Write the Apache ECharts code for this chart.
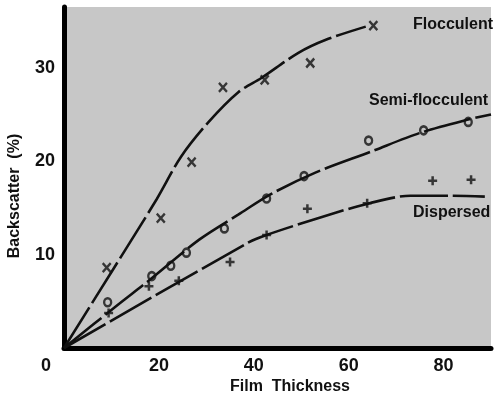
<!DOCTYPE html>
<html><head><meta charset="utf-8">
<script src="https://cdn.jsdelivr.net/npm/echarts@6/dist/echarts.min.js"></script>
<style>html,body{margin:0;padding:0;background:#fff}#c{width:494px;height:398px}</style>
</head><body><div id="c"></div>
<script>
// Measured marker points [thickness, backscatter]
const flocculentPts = [[9.0,8.6],[20.4,13.9],[26.9,19.9],[33.5,27.9],[42.3,28.7],[51.9,30.5],[65.2,34.5]];
const semiPts = [[9.2,4.9],[18.5,7.7],[22.5,8.8],[25.8,10.2],[33.8,12.8],[42.7,16.0],[50.6,18.4],[64.2,22.2],[75.8,23.3],[85.2,24.2]];
const dispersedPts = [[9.4,3.75],[17.9,6.6],[24.2,7.2],[35.0,9.2],[42.7,12.1],[51.3,14.9],[63.9,15.5],[77.7,17.9],[85.8,18.0]];
// Fitted curves as drawn
const flocculentCurve = [[0,0],[10.7,8.7],[19.5,15.9],[24.7,20.5],[30.5,24.2],[36.8,27.4],[41.6,28.9],[49.4,31.6],[55.2,33.0],[63.6,34.4]];
const semiCurve = [[0,0],[11.3,4.6],[17.6,7.1],[28.5,11.6],[36.8,14.3],[43.7,16.5],[53.1,18.8],[64.6,21.0],[74.9,23.0],[85.6,24.5],[90,25.0]];
const dispersedCurve = [[0,0],[38.9,11.3],[42.7,12.1],[54.2,14.0],[64.4,15.5],[73,16.3],[81.4,16.3],[88.7,16.2]];
const xTicks = [0,20,40,60,80];
const yTicks = [10,20,30];
const seriesNames = ['Flocculent','Semi-flocculent','Dispersed'];

const ink = '#111';
const font = '"Liberation Sans", Arial, sans-serif';
const chart = echarts.init(document.getElementById('c'), null, {renderer:'canvas'});
const lineStyle = {color: ink, width: 2.6, type: [48, 5]};
const markerStyle = {color: 'transparent', borderColor: ink, borderWidth: 2.5};
chart.setOption({
  animation: false,
  backgroundColor: '#fff',
  grid: {left: 64, right: 0, top: 7, bottom: 50, show: true, backgroundColor: '#c7c7c7', borderWidth: 0},
  xAxis: {
    type: 'value', min: 0, max: 90, interval: 20,
    axisLine: {show: true, lineStyle: {color: '#000', width: 5}},
    axisTick: {show: false}, splitLine: {show: false},
    axisLabel: {
      margin: 9, color: '#111', fontFamily: font, fontSize: 18, fontWeight: 'bold',
      formatter: v => xTicks.includes(v) ? (v === 0 ? '{z|0}' : String(v)) : '',
      rich: {z: {fontFamily: font, fontSize: 18, fontWeight: 'bold', color: '#111', padding: [0, 36, 0, 0]}}
    }
  },
  yAxis: {
    type: 'value', min: 0, max: 36.5, interval: 10,
    axisLine: {show: true, lineStyle: {color: '#000', width: 5}},
    axisTick: {show: false}, splitLine: {show: false},
    axisLabel: {
      margin: 9, color: '#111', fontFamily: font, fontSize: 18, fontWeight: 'bold',
      formatter: v => yTicks.includes(v) ? String(v) : ''
    }
  },
  series: [
    {type: 'line', data: flocculentCurve, smooth: 0.3, symbol: 'none', lineStyle: lineStyle, z: 2},
    {type: 'line', data: semiCurve, smooth: 0.3, symbol: 'none', lineStyle: lineStyle, z: 2},
    {type: 'line', data: dispersedCurve, smooth: 0.3, symbol: 'none', lineStyle: lineStyle, z: 2},
    {type: 'scatter', name: seriesNames[0], data: flocculentPts, symbol: 'path://M0,0L10,11M10,0L0,11', symbolSize: [8, 9], itemStyle: markerStyle, z: 3},
    {type: 'scatter', name: seriesNames[1], data: semiPts, symbol: 'circle', symbolSize: [7, 8], itemStyle: markerStyle, z: 3},
    {type: 'scatter', name: seriesNames[2], data: dispersedPts, symbol: 'path://M5,0L5,10M0,5L10,5', symbolSize: [9, 9], itemStyle: markerStyle, z: 3}
  ],
  graphic: [
    {type: 'text', left: 413, top: 17, style: {text: seriesNames[0], font: 'bold 16px ' + font, fill: ink}},
    {type: 'text', left: 369, top: 93, style: {text: seriesNames[1], font: 'bold 16px ' + font, fill: ink}},
    {type: 'text', left: 413, top: 205, style: {text: seriesNames[2], font: 'bold 16px ' + font, fill: ink}},
    {type: 'text', x: 290, y: 387, style: {text: 'Film  Thickness', font: 'bold 16px ' + font, fill: ink, textAlign: 'center', textVerticalAlign: 'middle'}},
    {type: 'text', x: 15, y: 196, rotation: Math.PI / 2, style: {text: 'Backscatter  (%)', font: 'bold 16px ' + font, fill: ink, textAlign: 'center', textVerticalAlign: 'middle'}}
  ]
});
</script></body></html>
